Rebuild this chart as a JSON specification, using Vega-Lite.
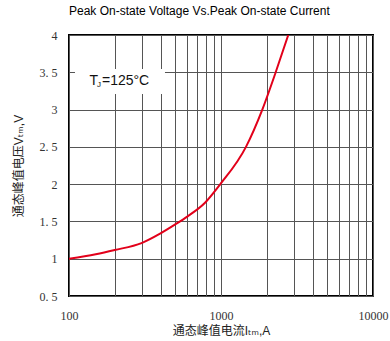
{
  "$schema": "https://vega.github.io/schema/vega-lite/v6.json",
  "width": 304,
  "height": 261,
  "autosize": {"type": "none"},
  "padding": {"left": 69, "top": 35, "right": 17, "bottom": 45},
  "background": "white",
  "title": {
    "text": "Peak On-state Voltage Vs.Peak On-state Current",
    "anchor": "start",
    "frame": "group",
    "font": "Liberation Sans",
    "fontSize": 12,
    "fontWeight": "normal",
    "color": "#000",
    "baseline": "alphabetic",
    "offset": 2
  },
  "config": {
    "view": {"stroke": "#000", "strokeWidth": 2},
    "axis": {
      "grid": true,
      "gridColor": "#555",
      "gridOpacity": 1,
      "gridWidth": 1,
      "ticks": false,
      "domain": false,
      "labelFont": "Liberation Serif",
      "labelFontSize": 12,
      "labelColor": "#333",
      "labelFlush": false,
      "labelOverlap": false,
      "titleFont": "Liberation Sans, Noto Sans CJK SC, DejaVu Sans",
      "titleFontSize": 12,
      "titleFontWeight": "normal",
      "titleColor": "#222"
    },
    "axisX": {"labelPadding": 14, "titleBaseline": "alphabetic", "titleY": 38},
    "axisY": {"labelPadding": 12, "titleAngle": 270, "titleAlign": "center", "titleBaseline": "middle", "titleX": -51, "titleY": 130.5}
  },
  "layer": [
    {
      "data": {
        "values": [
          {"current": 100, "voltage": 1.0},
          {"current": 150, "voltage": 1.06},
          {"current": 200, "voltage": 1.117},
          {"current": 300, "voltage": 1.21},
          {"current": 400, "voltage": 1.34},
          {"current": 500, "voltage": 1.46},
          {"current": 600, "voltage": 1.565},
          {"current": 785, "voltage": 1.75},
          {"current": 990, "voltage": 2.0},
          {"current": 1460, "voltage": 2.5},
          {"current": 1870, "voltage": 3.0},
          {"current": 2290, "voltage": 3.5},
          {"current": 2770, "voltage": 4.0}
        ]
      },
      "mark": {"type": "line", "color": "#e2001a", "strokeWidth": 2, "interpolate": "monotone", "clip": true},
      "encoding": {
        "x": {
          "field": "current",
          "type": "quantitative",
          "scale": {"type": "log", "domain": [100, 10000]},
          "axis": {
            "values": [100, 200, 300, 400, 500, 600, 700, 800, 900, 1000, 2000, 3000, 4000, 5000, 6000, 7000, 8000, 9000, 10000],
            "format": "d",
            "labelExpr": "indexof([100, 1000, 10000], datum.value) >= 0 ? datum.label : ''",
            "title": "通态峰值电流Iₜₘ,A"
          }
        },
        "y": {
          "field": "voltage",
          "type": "quantitative",
          "scale": {"domain": [0.5, 4]},
          "axis": {
            "values": [0.5, 1, 1.5, 2, 2.5, 3, 3.5, 4],
            "labelExpr": "floor(datum.value) + (datum.value % 1 ? '. 5' : '')",
            "title": "通态峰值电压Vₜₘ,V"
          }
        }
      }
    },
    {
      "data": {"values": [{}]},
      "mark": {"type": "rect", "fill": "white"},
      "encoding": {
        "x": {
          "datum": 109.5,
          "type": "quantitative",
          "axis": {
            "values": [100, 200, 300, 400, 500, 600, 700, 800, 900, 1000, 2000, 3000, 4000, 5000, 6000, 7000, 8000, 9000, 10000],
            "format": "d",
            "labelExpr": "indexof([100, 1000, 10000], datum.value) >= 0 ? datum.label : ''",
            "title": "通态峰值电流Iₜₘ,A"
          }
        },
        "x2": {"datum": 428},
        "y": {
          "datum": 3.544,
          "type": "quantitative",
          "axis": {
            "values": [0.5, 1, 1.5, 2, 2.5, 3, 3.5, 4],
            "labelExpr": "floor(datum.value) + (datum.value % 1 ? '. 5' : '')",
            "title": "通态峰值电压Vₜₘ,V"
          }
        },
        "y2": {"datum": 3.209}
      }
    },
    {
      "data": {"values": [{}]},
      "mark": {"type": "text", "text": "T", "font": "Liberation Sans", "fontSize": 14, "align": "left", "baseline": "alphabetic", "color": "#111"},
      "encoding": {
        "x": {
          "datum": 136.4,
          "type": "quantitative",
          "axis": {
            "values": [100, 200, 300, 400, 500, 600, 700, 800, 900, 1000, 2000, 3000, 4000, 5000, 6000, 7000, 8000, 9000, 10000],
            "format": "d",
            "labelExpr": "indexof([100, 1000, 10000], datum.value) >= 0 ? datum.label : ''",
            "title": "通态峰值电流Iₜₘ,A"
          }
        },
        "y": {
          "datum": 3.33,
          "type": "quantitative",
          "axis": {
            "values": [0.5, 1, 1.5, 2, 2.5, 3, 3.5, 4],
            "labelExpr": "floor(datum.value) + (datum.value % 1 ? '. 5' : '')",
            "title": "通态峰值电压Vₜₘ,V"
          }
        }
      }
    },
    {
      "data": {"values": [{}]},
      "mark": {"type": "text", "text": "J", "font": "Liberation Sans", "fontSize": 8, "align": "left", "baseline": "alphabetic", "color": "#111", "dx": 7.5, "dy": 2},
      "encoding": {
        "x": {
          "datum": 136.4,
          "type": "quantitative",
          "axis": {
            "values": [100, 200, 300, 400, 500, 600, 700, 800, 900, 1000, 2000, 3000, 4000, 5000, 6000, 7000, 8000, 9000, 10000],
            "format": "d",
            "labelExpr": "indexof([100, 1000, 10000], datum.value) >= 0 ? datum.label : ''",
            "title": "通态峰值电流Iₜₘ,A"
          }
        },
        "y": {
          "datum": 3.33,
          "type": "quantitative",
          "axis": {
            "values": [0.5, 1, 1.5, 2, 2.5, 3, 3.5, 4],
            "labelExpr": "floor(datum.value) + (datum.value % 1 ? '. 5' : '')",
            "title": "通态峰值电压Vₜₘ,V"
          }
        }
      }
    },
    {
      "data": {"values": [{}]},
      "mark": {"type": "text", "text": "=125°C", "font": "Liberation Sans", "fontSize": 14, "align": "left", "baseline": "alphabetic", "color": "#111", "dx": 12.5},
      "encoding": {
        "x": {
          "datum": 136.4,
          "type": "quantitative",
          "axis": {
            "values": [100, 200, 300, 400, 500, 600, 700, 800, 900, 1000, 2000, 3000, 4000, 5000, 6000, 7000, 8000, 9000, 10000],
            "format": "d",
            "labelExpr": "indexof([100, 1000, 10000], datum.value) >= 0 ? datum.label : ''",
            "title": "通态峰值电流Iₜₘ,A"
          }
        },
        "y": {
          "datum": 3.33,
          "type": "quantitative",
          "axis": {
            "values": [0.5, 1, 1.5, 2, 2.5, 3, 3.5, 4],
            "labelExpr": "floor(datum.value) + (datum.value % 1 ? '. 5' : '')",
            "title": "通态峰值电压Vₜₘ,V"
          }
        }
      }
    }
  ]
}
